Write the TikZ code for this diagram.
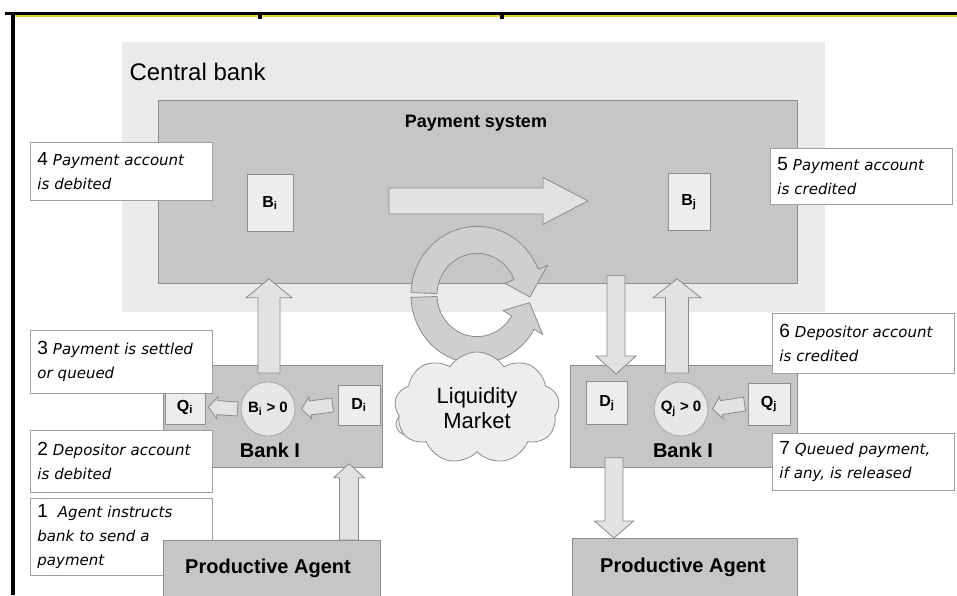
\documentclass[tikz,border=0pt]{standalone}
\usepackage{fontspec}
\setmainfont{Liberation Sans}
\newfontfamily\lblfont{DejaVu Sans}
\usetikzlibrary{calc,shapes.symbols}

\definecolor{cbfill}{HTML}{EAEAEA}
\definecolor{boxfill}{HTML}{C6C6C6}
\definecolor{boxline}{HTML}{8E8E8E}
\definecolor{accfill}{HTML}{EDEDED}
\definecolor{arrfill}{HTML}{E2E2E2}
\definecolor{circfill}{HTML}{CFCFCF}
\definecolor{arrline}{HTML}{8A8A8A}
\definecolor{lblline}{HTML}{A0A0A0}
\definecolor{rulegold}{HTML}{E2CF3A}

\newcommand\stepnum[1]{{\normalfont\fontsize{19}{24}\selectfont #1}}

\begin{document}
\begin{tikzpicture}[x=1pt,y=-1pt,
  graybox/.style={draw=boxline, fill=boxfill, line width=0.8pt, inner sep=0pt, anchor=north west},
  acct/.style={draw=boxline, fill=accfill, line width=0.8pt, inner sep=0pt,
    font=\bfseries\fontsize{16}{18}\selectfont},
  cond/.style={circle, draw=boxline!80, fill=accfill!85!boxfill, line width=0.8pt, inner sep=0pt,
    minimum size=54pt, font=\bfseries\fontsize{15}{18}\selectfont},
  note/.style={draw=lblline, fill=white, line width=0.8pt, anchor=north west,
    inner xsep=7pt, inner ysep=0pt, text width=168pt, align=left,
    font=\lblfont\itshape\fontsize{15}{24}\selectfont},
  banktitle/.style={font=\bfseries\fontsize{20}{22}\selectfont},
  circarrow/.style={draw=arrline, fill=circfill, line width=0.8pt, line join=round},
  % block arrow drawn from start to target: body half-width, head half-width, head length
  blk/.style n args={3}{draw=arrline, fill=arrfill, line width=0.8pt, line join=miter,
    to path={($(\tikztostart)!#1!90:(\tikztotarget)$)
      -- ($(\tikztotarget)!#3!(\tikztostart)!#1!90:(\tikztotarget)$)
      -- ($(\tikztotarget)!#3!(\tikztostart)!#2!90:(\tikztotarget)$)
      -- (\tikztotarget)
      -- ($(\tikztotarget)!#3!(\tikztostart)!#2!-90:(\tikztotarget)$)
      -- ($(\tikztotarget)!#3!(\tikztostart)!#1!-90:(\tikztotarget)$)
      -- ($(\tikztostart)!#1!-90:(\tikztotarget)$) -- cycle}}
]
\useasboundingbox (0,0) rectangle (957,595);
\fill[white] (0,0) rectangle (957,595);

% outer frame
\draw[rulegold, line width=1.2pt] (14,16) -- (957,16);
\draw[line width=3pt] (5,13) -- (957,13);
\draw[line width=4pt] (12.5,12) -- (12.5,595);
\fill (258,13) rectangle (262,19);
\fill (500,13) rectangle (504,19);

% central bank area
\node[fill=cbfill, minimum width=703pt, minimum height=270pt, anchor=north west, inner sep=0pt] (cb) at (122,42) {};
\node[anchor=base west, font=\fontsize{24}{28}\selectfont] (cbtitle) at (126,80) {Central bank};

% payment system
\node[graybox, minimum width=639pt, minimum height=183pt] (psys) at (158,100) {};
\node[anchor=base, font=\bfseries\fontsize{18}{20}\selectfont] (pstitle) at (476,127) {Payment system};
\node[acct, minimum width=46pt, minimum height=57pt] (Bi) at (270,203) {B\textsubscript{i}};
\node[acct, minimum width=42pt, minimum height=57pt] (Bj) at (689,202) {B\textsubscript{j}};
\draw[blk={13pt}{23.5pt}{45pt}] ($(psys.center)+(-89,9)$) to ($(psys.center)+(110,9)$);

% notes on the payment accounts
\node[note, minimum height=58pt] (lab4) at (30,142) {\stepnum{4} Payment account\\is debited};
\node[note, minimum height=56pt] (lab5) at (770,148) {\stepnum{5} Payment account\\is credited};

% liquidity loop
\begin{scope}[shift={(477,295)}, yscale=-1.04]
  \draw[circarrow] (182:66) arc[start angle=182, end angle=330, radius=66]
    -- (330:76) -- (352:53) -- (330:30) -- (330:40)
    arc[start angle=330, end angle=182, radius=40] -- cycle;
  \draw[circarrow] (178:66) arc[start angle=178, end angle=22, radius=66]
    -- (22:76) -- (-2:53) -- (22:30) -- (22:40)
    arc[start angle=22, end angle=178, radius=40] -- cycle;
\end{scope}
\fill[accfill, draw=boxline, line width=0.8pt] (407,424) circle[radius=11];
\node[cloud, cloud puffs=9, cloud puff arc=115, aspect=1.45, draw=boxline, fill=accfill,
  line width=0.8pt, minimum width=165pt, minimum height=112pt, inner sep=0pt, align=center,
  font=\fontsize{22}{25}\selectfont] (liq) at (477,408) {Liquidity\\Market};

% first step note sits beneath the agent box
\node[note, minimum height=77pt] (lab1) at (30,498) {\stepnum{1}\ \ Agent instructs\\bank to send a\\payment};

% banks and agents
\node[graybox, minimum width=219pt, minimum height=102pt] (bankL) at (163,365) {};
\node[graybox, minimum width=227pt, minimum height=102pt] (bankR) at (570,365) {};
\node[graybox, minimum width=217pt, minimum height=60pt] (agentL) at (163,540) {};
\node[graybox, minimum width=225pt, minimum height=62pt] (agentR) at (572,538) {};
\node[font=\bfseries\fontsize{20}{22}\selectfont] (agentLt) at (268,568) {Productive Agent};
\node[font=\bfseries\fontsize{20}{22}\selectfont] (agentRt) at (683,567) {Productive Agent};

% accounts inside the banks
\node[acct, minimum width=40pt, minimum height=35pt] (Qi) at (185,407) {Q\textsubscript{i}};
\node[cond] (condL) at (268,409) {B\textsubscript{i} > 0};
\node[acct, minimum width=42pt, minimum height=40pt] (Di) at (359,405) {D\textsubscript{i}};
\node[acct, minimum width=41pt, minimum height=43pt] (Dj) at (607,403) {D\textsubscript{j}};
\node[cond] (condR) at (681,409) {Q\textsubscript{j} > 0};
\node[acct, minimum width=42pt, minimum height=42pt] (Cj) at (769,404) {Q\textsubscript{j}};
\node[banktitle] (bankLt) at (270,450) {Bank I};
\node[banktitle] (bankRt) at (683,450) {Bank I};

\draw[blk={7pt}{11pt}{9pt}] ($(Di.west)+(-5,0)$) to ($(condL.east)+(6,0)$);
\draw[blk={7pt}{11pt}{9pt}] ($(condL.west)+(-3,0)$) to ($(Qi.east)+(3,0)$);
\draw[blk={7pt}{11pt}{9pt}] ($(Cj.west)+(-3,0)$) to ($(condR.east)+(4,0)$);

% flows between banks, agents and the payment system
\draw[blk={11pt}{23pt}{19pt}] ($(bankL.north -| condL)+(1,8)$) to ($(psys.south -| condL)+(1,-5)$);
\draw[blk={9pt}{20pt}{18pt}] ($(psys.south -| Dj)+(9,-8)$) to ($(bankR.north -| Dj)+(9,9)$);
\draw[blk={11.5pt}{24pt}{19pt}] ($(bankR.north -| condR)+(-4,8)$) to ($(psys.south -| condR)+(-4,-5)$);
\draw[blk={9.5pt}{15.5pt}{14pt}] ($(agentL.north -| Di)+(-10,0)$) to ($(bankL.south -| Di)+(-10,-4)$);
\draw[blk={9pt}{19.5pt}{17pt}] ($(bankR.south -| Dj)+(7,-10)$) to ($(agentR.north -| Dj)+(7,0)$);

% remaining step notes
\node[note, minimum height=63pt] (lab3) at (30,330) {\stepnum{3} Payment is settled\\or queued};
\node[note, minimum height=62pt] (lab2) at (30,430) {\stepnum{2} Depositor account\\is debited};
\node[note, minimum height=60pt] (lab6) at (772,313) {\stepnum{6} Depositor account\\is credited};
\node[note, minimum height=57pt] (lab7) at (772,433) {\stepnum{7} Queued payment,\\if any, is released};
\end{tikzpicture}
\end{document}
